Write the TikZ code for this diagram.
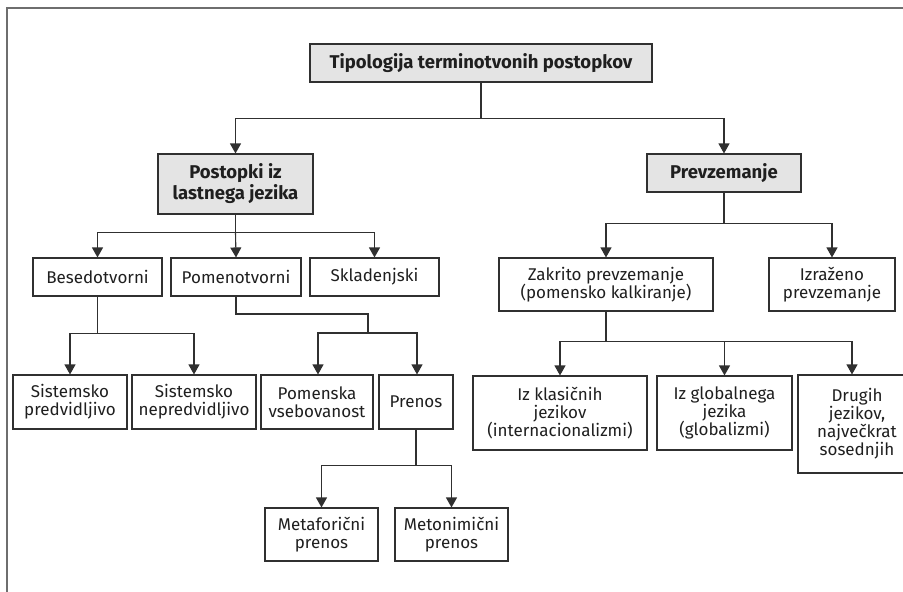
\documentclass[tikz,border=0pt]{standalone}
\usepackage{fontspec}
\setmainfont{Fira Sans}
\usetikzlibrary{arrows.meta}
\definecolor{ln}{HTML}{303030}
\definecolor{gfill}{HTML}{E4E4E4}
\definecolor{frm}{HTML}{6E6E6E}
\tikzset{
  box/.style={draw=ln, line width=1.1pt, fill=white, inner sep=0pt, align=center,
    text=black!88, font=\fontsize{17}{18}\selectfont},
  gbox/.style={box, fill=gfill, font=\fontsize{18.5}{21}\selectfont\bfseries},
  conn/.style={draw=ln, line width=1.1pt},
  arr/.style={conn, -{Triangle[width=11pt,length=10pt]}},
}
\begin{document}
\begin{tikzpicture}[x=1pt,y=-1pt]
\useasboundingbox (0,0) rectangle (903,592);
\clip (0,0) rectangle (903,592);
\fill[white] (0,0) rectangle (903,592);
\draw[frm, line width=2pt] (7,600) -- (7,8) -- (910,8);
% nodes
\node[gbox, minimum width=342pt, minimum height=38pt] (top) at (481,63) {Tipologija terminotvonih postopkov};
\node[gbox, minimum width=155pt, minimum height=60pt] (L1) at (235.5,184) {Postopki iz\\lastnega jezika};
\node[gbox, minimum width=154pt, minimum height=38pt] (R1) at (724,173) {Prevzemanje};
\node[box, minimum width=129pt, minimum height=38pt] (beso) at (97.5,277) {Besedotvorni};
\node[box, minimum width=130pt, minimum height=38pt] (pomen) at (236,277) {Pomenotvorni};
\node[box, minimum width=129pt, minimum height=38pt] (sklad) at (374.5,277) {Skladenjski};
\node[box, minimum width=214pt, minimum height=53pt] (zakr) at (606,284.5) {Zakrito prevzemanje\\(pomensko kalkiranje)};
\node[box, minimum width=126pt, minimum height=53pt] (izr) at (832,284.5) {Izraženo\\prevzemanje};
\node[box, minimum width=114pt, minimum height=54pt] (sp) at (70,402) {Sistemsko\\predvidljivo};
\node[box, minimum width=124pt, minimum height=54pt] (sn) at (194,402) {Sistemsko\\nepredvidljivo};
\node[box, minimum width=112pt, minimum height=54pt] (pv) at (317,402) {Pomenska\\vsebovanost};
\node[box, minimum width=74pt, minimum height=54pt] (pren) at (416,402) {Prenos};
\node[box, minimum width=113pt, minimum height=53pt] (meta) at (321.5,534.5) {Metaforični\\prenos};
\node[box, minimum width=113pt, minimum height=53pt] (meto) at (451.5,534.5) {Metonimični\\prenos};
\node[box, minimum width=174pt, minimum height=74pt] (izk) at (560,413) {Iz klasičnih\\jezikov\\(internacionalizmi)};
\node[box, minimum width=135pt, minimum height=74pt] (izg) at (724.5,413) {Iz globalnega\\jezika\\(globalizmi)};
\node[box, minimum width=118pt, minimum height=98pt] (drug) at (857,424) {Drugih\\jezikov,\\največkrat\\sosednjih};
% connectors
\draw[conn] (top.south) -- ++(0,36) coordinate (t1);
\draw[arr] (t1) -| (L1.north);
\draw[arr] (t1) -| (R1.north);
\draw[conn] (L1.south) -- ++(0,18) coordinate (l1);
\draw[arr] (l1) -| (beso.north);
\draw[arr] (l1) -- (pomen.north);
\draw[arr] (l1) -| (sklad.north);
\draw[conn] (R1.south) -- ++(0,31) coordinate (r1);
\draw[arr] (r1) -| (zakr.north);
\draw[arr] (r1) -| (izr.north);
\draw[conn] (beso.south) -- ++(0,37) coordinate (b1);
\draw[arr] (b1) -| (sp.north);
\draw[arr] (b1) -| (sn.north);
\coordinate (pj) at (368,314);
\draw[conn] (pomen.south) |- (pj) -- ++(0,19) coordinate (pk);
\draw[arr] (pk) -| ([xshift=1pt]pv.north);
\draw[arr] (pk) -| ([xshift=1pt]pren.north);
\draw[conn] (pren.south) -- ++(0,36) coordinate (p1);
\draw[arr] (p1) -| (meta.north);
\draw[arr] (p1) -| (meto.north);
\draw[conn] (zakr.south) -- ++(0,30) coordinate (z1);
\draw[arr] (z1) -| (izk.north);
\draw[arr] (z1) -| (izg.north);
\draw[arr] (z1) -| ([xshift=-5pt]drug.north);
\end{tikzpicture}
\end{document}
